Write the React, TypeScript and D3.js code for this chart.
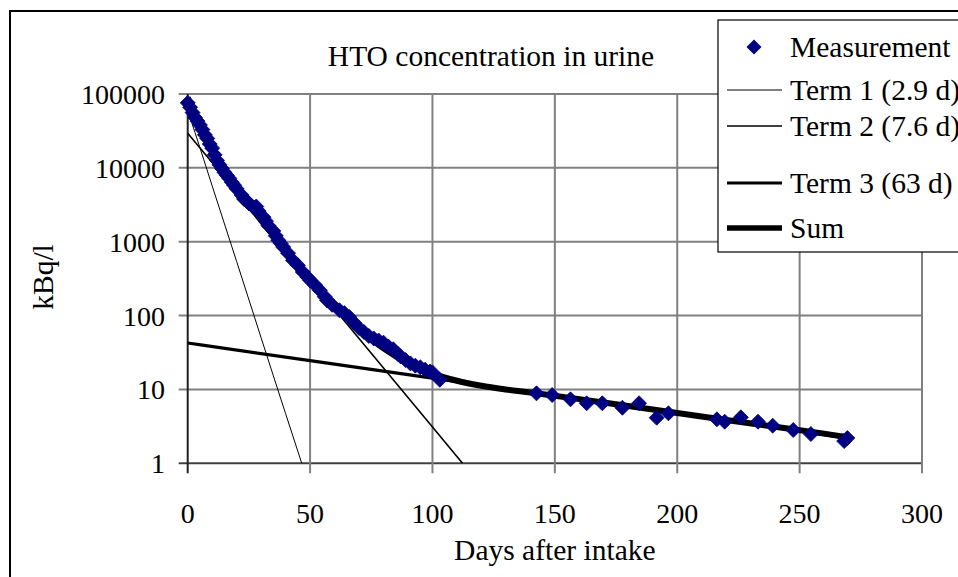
import React from "react";
import * as d3 from "d3";

// Measurement series: [day, kBq/l]
const measDays = [0, 1, 2, 3, 4, 5, 6, 7, 8, 9, 10, 11, 12, 13, 14, 15, 16, 17, 18, 19, 20, 22, 23, 24, 25, 27, 28, 29, 31, 32, 33, 35, 36, 37, 38, 39, 41, 43, 45, 47, 49, 50, 52, 54, 56, 57, 59, 62, 64, 66, 68, 70, 72, 74, 76, 78, 80, 82, 84, 86, 87, 89, 91, 93, 95, 97, 99, 100, 103,
  142.5, 148.9, 156.4, 163, 169.4, 177.6, 184.4, 191.6, 196.4, 216.2, 219.4, 226, 233, 239, 247.4, 254.6, 268.2, 269.5];
const measValues = [76000, 66000, 56000, 48000, 43000, 38000, 33000, 28000, 25000, 21000, 18500, 15000, 12600, 11000, 9800, 8700, 7900, 7200, 6400, 5800, 5200, 4300, 3800, 3600, 3300, 2900, 3000, 2600, 2150, 1900, 1650, 1400, 1200, 1050, 950, 850, 700, 560, 480, 390, 330, 300, 260, 220, 180, 160, 140, 118, 108, 96, 80, 68, 60, 53, 49, 46, 43, 38, 35, 30, 28, 25, 22.5, 21, 20, 18.5, 17.5, 17, 13.5,
  8.85, 8.4, 7.35, 6.5, 6.5, 5.65, 6.5, 4.14, 4.75, 3.94, 3.66, 4.19, 3.66, 3.23, 2.82, 2.49, 2.0, 2.2];

// Model terms
const term1Days = [0, 3, 10, 20, 30, 40, 46.6];
const term1Values = [60000, 30000, 5700, 540, 50, 4.7, 1];
const term2Days = [0, 25, 50, 75, 100, 112.3];
const term2Values = [29500, 3000, 305, 31, 3.1, 1];
const term3Days = [0, 50, 100, 150, 200, 250, 270];
const term3Values = [42.5, 24.5, 14.2, 8.2, 4.75, 2.75, 2.18];
const sumDays = [0, 5, 10, 15, 20, 25, 30, 35, 40, 45, 50, 60, 70, 80, 90, 100, 110, 120, 130, 140, 160, 180, 200, 220, 240, 260, 268];
const sumValues = [89500, 37000, 17500, 9200, 5250, 3160, 1950, 1225, 778, 500, 323, 141, 67, 36, 22.7, 16.4, 13.1, 11.2, 10.0, 9.1, 7.4, 5.95, 4.8, 3.86, 3.12, 2.52, 2.3];

const xTicks = [0, 50, 100, 150, 200, 250, 300];
const yTicks = [1, 10, 100, 1000, 10000, 100000];

const legendItems = [
  { label: "Measurement", kind: "marker", width: 0 },
  { label: "Term 1 (2.9 d)", kind: "line", width: 1 },
  { label: "Term 2 (7.6 d)", kind: "line", width: 1.6 },
  { label: "Term 3 (63 d)", kind: "line", width: 3.2 },
  { label: "Sum", kind: "line", width: 5.5 },
];
const legendY = [47, 90, 126, 183, 228];

const FONT = "'Liberation Serif', 'Times New Roman', serif";

export default function App() {
  const left = 187.7, right = 922, top = 94, bottom = 463.3;
  const x = d3.scaleLinear().domain([0, 300]).range([left, right]);
  const y = d3.scaleLog().domain([1, 100000]).range([bottom, top]);
  const line = d3
    .line<[number, number]>()
    .x((d) => x(d[0]))
    .y((d) => y(d[1]))
    .curve(d3.curveMonotoneX);
  const zip = (a: number[], b: number[]) => a.map((v, i) => [v, b[i]] as [number, number]);
  const diamond = "M0,-7.5L7.5,0L0,7.5L-7.5,0Z";
  const grid = "#808080";

  return (
    <svg width={958} height={577} style={{ position: "absolute", left: 0, top: 0, background: "#fff" }} fontFamily={FONT}>
      <defs>
        <clipPath id="plot">
          <rect x={left} y={top - 10} width={right - left + 10} height={bottom - top + 10} />
        </clipPath>
      </defs>
      <rect x={0} y={0} width={958} height={577} fill="#fff" />
      <rect x={10} y={11} width={1200} height={1200} fill="none" stroke="#000" strokeWidth={2} />

      {/* gridlines */}
      {yTicks.map((t) => (
        <line key={"gy" + t} x1={left - 9} x2={right} y1={y(t)} y2={y(t)} stroke={t === 1 ? "#404040" : grid} strokeWidth={2} />
      ))}
      {xTicks.map((t) => (
        <line key={"gx" + t} x1={x(t)} x2={x(t)} y1={top} y2={bottom + 10} stroke={t === 0 ? "#202020" : grid} strokeWidth={2} />
      ))}

      {/* tick labels */}
      {yTicks.map((t) => (
        <text key={"ly" + t} x={165} y={y(t) + 10} textAnchor="end" fontSize={28}>
          {String(t)}
        </text>
      ))}
      {xTicks.map((t) => (
        <text key={"lx" + t} x={x(t)} y={523} textAnchor="middle" fontSize={28}>
          {String(t)}
        </text>
      ))}

      <text x={(left + right) / 2} y={560} textAnchor="middle" fontSize={29.5}>Days after intake</text>
      <text transform={`translate(53,277) rotate(-90)`} textAnchor="middle" fontSize={29.5}>kBq/l</text>
      <text x={491} y={66} textAnchor="middle" fontSize={29.5}>HTO concentration in urine</text>

      {/* lines */}
      <g clipPath="url(#plot)" fill="none" stroke="#000" strokeLinejoin="round">
        <path d={line(zip(term1Days, term1Values)) || ""} strokeWidth={1} />
        <path d={line(zip(term2Days, term2Values)) || ""} strokeWidth={1.6} />
        <path d={line(zip(term3Days, term3Values)) || ""} strokeWidth={3.2} />
        <path d={line(zip(sumDays, sumValues)) || ""} strokeWidth={6} />
      </g>

      {/* markers */}
      <g fill="#000080" stroke="#000080" strokeWidth={0.8}>
        {measDays.map((d, i) => (
          <path key={"m" + i} d={diamond} transform={`translate(${x(d)},${y(measValues[i])})`} />
        ))}
      </g>

      {/* legend */}
      <rect x={718} y={20} width={300} height={232} fill="#fff" stroke="#000" strokeWidth={1.2} />
      {legendItems.map((it, i) => (
        <g key={"lg" + i}>
          {it.kind === "marker" ? (
            <path d={diamond} transform={`translate(754,${legendY[i]})`} fill="#000080" />
          ) : (
            <line x1={727} x2={782} y1={legendY[i]} y2={legendY[i]} stroke="#000" strokeWidth={it.width} />
          )}
          <text x={790} y={legendY[i] + 10} fontSize={29.5}>{it.label}</text>
        </g>
      ))}
    </svg>
  );
}
